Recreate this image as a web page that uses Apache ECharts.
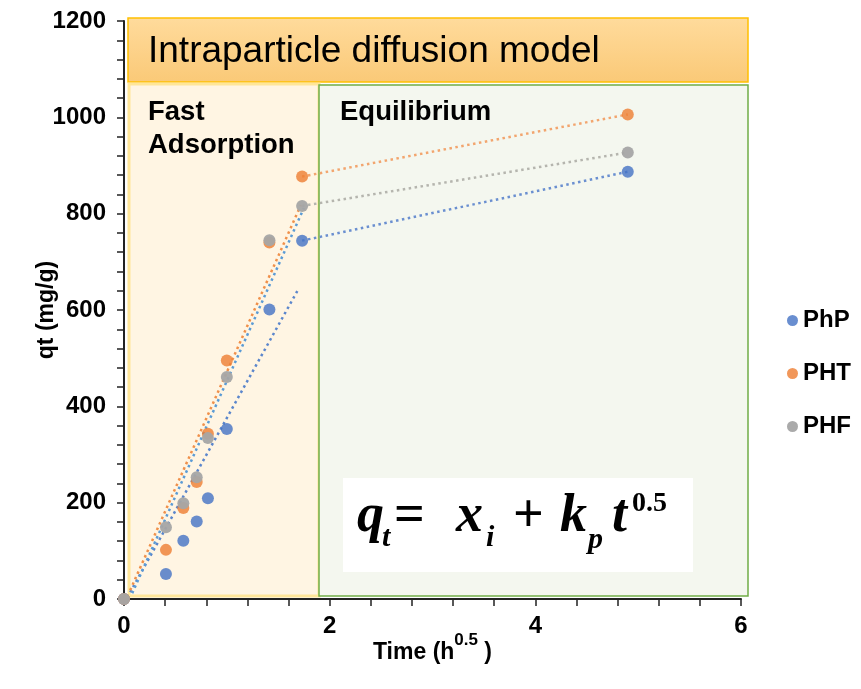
<!DOCTYPE html>
<html>
<head>
<meta charset="utf-8">
<script src="https://cdn.jsdelivr.net/npm/echarts@6/dist/echarts.min.js"></script>
<style>
html,body{margin:0;padding:0;background:#fff;}
#c{width:861px;height:689px;}
</style>
</head>
<body>
<div id="c"></div>
<script>
// ---- data (x = sqrt(time in hours)) ----
const timeSqrt = [0, 0.408, 0.577, 0.707, 0.816, 1.0, 1.414, 1.732, 4.899];
const php = [0, 52, 121, 161, 209, 353, 601, 744, 887];
const pht = [0, 102, 189, 243, 343, 495, 740, 877, 1006];
const phf = [0, 149, 199, 253, 334, 461, 745, 816, 927];
// fast adsorption fit lines (endpoints)
const fitPHT = [[0.06, 18], [1.72, 818]];
const fitPHF = [[0.08, 12], [1.75, 812]];
const fitPhP = [[0.06, 14], [1.70, 645]];
const seriesNames = ['PhP', 'PHT', 'PHF'];
const xTicks = {min: 0, max: 6, interval: 2};
const yTicks = {min: 0, max: 1200, interval: 200};

const FONT = 'Liberation Sans, Arial, sans-serif';
const SERIF = 'Liberation Serif, Times New Roman, serif';
const C_BLUE = '#4472C4', C_ORANGE = '#ED7D31', C_GREY = '#A5A5A5';

function pts(ys) { return timeSqrt.map((x, i) => [x, ys[i]]); }
function eqLine(ys) { const n = timeSqrt.length; return [[timeSqrt[n-2], ys[n-2]], [timeSqrt[n-1], ys[n-1]]]; }

function dotted(name, data, color) {
  return {
    name: name, type: 'line', data: data, symbol: 'none', silent: true, z: 3,
    lineStyle: {color: color, width: 2.5, type: [2.5, 3.5]}
  };
}
// formula piece: baseline given, placed with middle alignment
function fpiece(text, x, baseline, size, italic) {
  return {type: 'text', z: -3, x: x, y: baseline - 0.3 * size,
    style: {text: text, font: (italic ? 'italic ' : '') + 'bold ' + size + 'px ' + SERIF, fill: '#000', verticalAlign: 'middle', align: 'left'}};
}

const chart = echarts.init(document.getElementById('c'), null, {renderer: 'canvas'});
const option = {
  animation: false,
  backgroundColor: '#fff',
  grid: {left: 124, right: 120, top: 21, bottom: 90, containLabel: false},
  xAxis: {
    type: 'value', min: xTicks.min, max: xTicks.max, interval: xTicks.interval,
    name: '{a|Time (h}{s|0.5}{a| )}', nameLocation: 'middle', nameGap: 33, nameMoveOverlap: false,
    nameTextStyle: {
      rich: {
        a: {fontFamily: FONT, fontSize: 23, fontWeight: 'bold', color: '#000', lineHeight: 32, verticalAlign: 'bottom'},
        s: {fontFamily: FONT, fontSize: 17, fontWeight: 'bold', color: '#000', lineHeight: 32, verticalAlign: 'top'}
      }
    },
    axisLine: {show: true, lineStyle: {color: '#222', width: 2}},
    axisTick: {show: true, length: 7, lineStyle: {color: '#222', width: 1.5}},
    minorTick: {show: true, splitNumber: 5, length: 7, lineStyle: {color: '#222', width: 1.5}},
    splitLine: {show: false},
    axisLabel: {fontFamily: FONT, fontSize: 24, fontWeight: 'bold', color: '#000', margin: 15,
      formatter: v => String(v)}
  },
  yAxis: {
    type: 'value', min: yTicks.min, max: yTicks.max, interval: yTicks.interval,
    name: 'qt (mg/g)', nameLocation: 'middle', nameGap: 66, nameRotate: 90, nameMoveOverlap: false,
    nameTextStyle: {fontFamily: FONT, fontSize: 23, fontWeight: 'bold', color: '#000'},
    axisLine: {show: true, lineStyle: {color: '#222', width: 2}},
    axisTick: {show: true, length: 7, lineStyle: {color: '#222', width: 1.5}},
    minorTick: {show: true, splitNumber: 5, length: 7, lineStyle: {color: '#222', width: 1.5}},
    splitLine: {show: false},
    axisLabel: {fontFamily: FONT, fontSize: 24, fontWeight: 'bold', color: '#000', margin: 18,
      formatter: v => String(v)}
  },
  legend: {
    data: seriesNames, orient: 'vertical', left: 782, top: 303,
    itemWidth: 11, itemHeight: 11, itemGap: 28, icon: 'circle',
    textStyle: {fontFamily: FONT, fontSize: 24, fontWeight: 'bold', color: '#000', lineHeight: 25}
  },
  graphic: [
    {type: 'rect', z: -5, shape: {x: 128, y: 18, width: 620, height: 64},
     style: {fill: new echarts.graphic.LinearGradient(0, 0, 0, 1, [{offset: 0, color: '#FFDB9C'}, {offset: 1, color: '#FAC977'}]), stroke: '#FFC000', lineWidth: 1.5}},
    {type: 'rect', z: -5, shape: {x: 129, y: 84, width: 190, height: 512},
     style: {fill: '#FFF5E3', stroke: '#FFE699', lineWidth: 3}},
    {type: 'rect', z: -5, shape: {x: 319, y: 85, width: 429, height: 511},
     style: {fill: '#F4F7EF', stroke: '#70AD47', lineWidth: 1.5}},
    {type: 'rect', z: -4, shape: {x: 343, y: 478, width: 350, height: 94},
     style: {fill: '#FFFFFF'}},
    {type: 'text', z: -3, left: 148, top: 33,
     style: {text: 'Intraparticle diffusion model', font: '37px ' + FONT, fill: '#000'}},
    {type: 'text', z: -3, left: 148, top: 96,
     style: {text: 'Fast\nAdsorption', font: 'bold 27.5px ' + FONT, fill: '#000', lineHeight: 33}},
    {type: 'text', z: -3, left: 340, top: 98,
     style: {text: 'Equilibrium', font: 'bold 27.5px ' + FONT, fill: '#000'}},
    // formula q_t = x_i + k_p t^0.5
    fpiece('q', 357, 533, 54, true),
    fpiece('t', 382, 547, 30, true),
    fpiece('=', 394, 533, 54, false),
    fpiece('x', 456, 533, 54, true),
    fpiece('i', 486, 547, 30, true),
    fpiece('+', 513, 533, 54, false),
    fpiece('k', 560, 533, 54, true),
    fpiece('p', 588, 549, 30, true),
    fpiece('t', 612, 533, 54, true),
    fpiece('0.5', 632, 512, 28, false)
  ],
  series: [
    dotted('fitPhP', fitPhP, '#5B86CC'),
    dotted('fitPHF', fitPHF, '#5B9BD5'),
    dotted('fitPHT', fitPHT, '#F0904A'),
    dotted('eqPhP', eqLine(php), '#6A8FD0'),
    dotted('eqPHF', eqLine(phf), '#B5B5AE'),
    dotted('eqPHT', eqLine(pht), '#F2A56E'),
    {name: 'PhP', type: 'scatter', data: pts(php), symbolSize: 12, itemStyle: {color: C_BLUE}, z: 4},
    {name: 'PHT', type: 'scatter', data: pts(pht), symbolSize: 12, itemStyle: {color: C_ORANGE}, z: 4},
    {name: 'PHF', type: 'scatter', data: pts(phf), symbolSize: 12, itemStyle: {color: C_GREY, opacity: 0.95}, z: 4}
  ]
};
chart.setOption(option);
</script>
</body>
</html>
